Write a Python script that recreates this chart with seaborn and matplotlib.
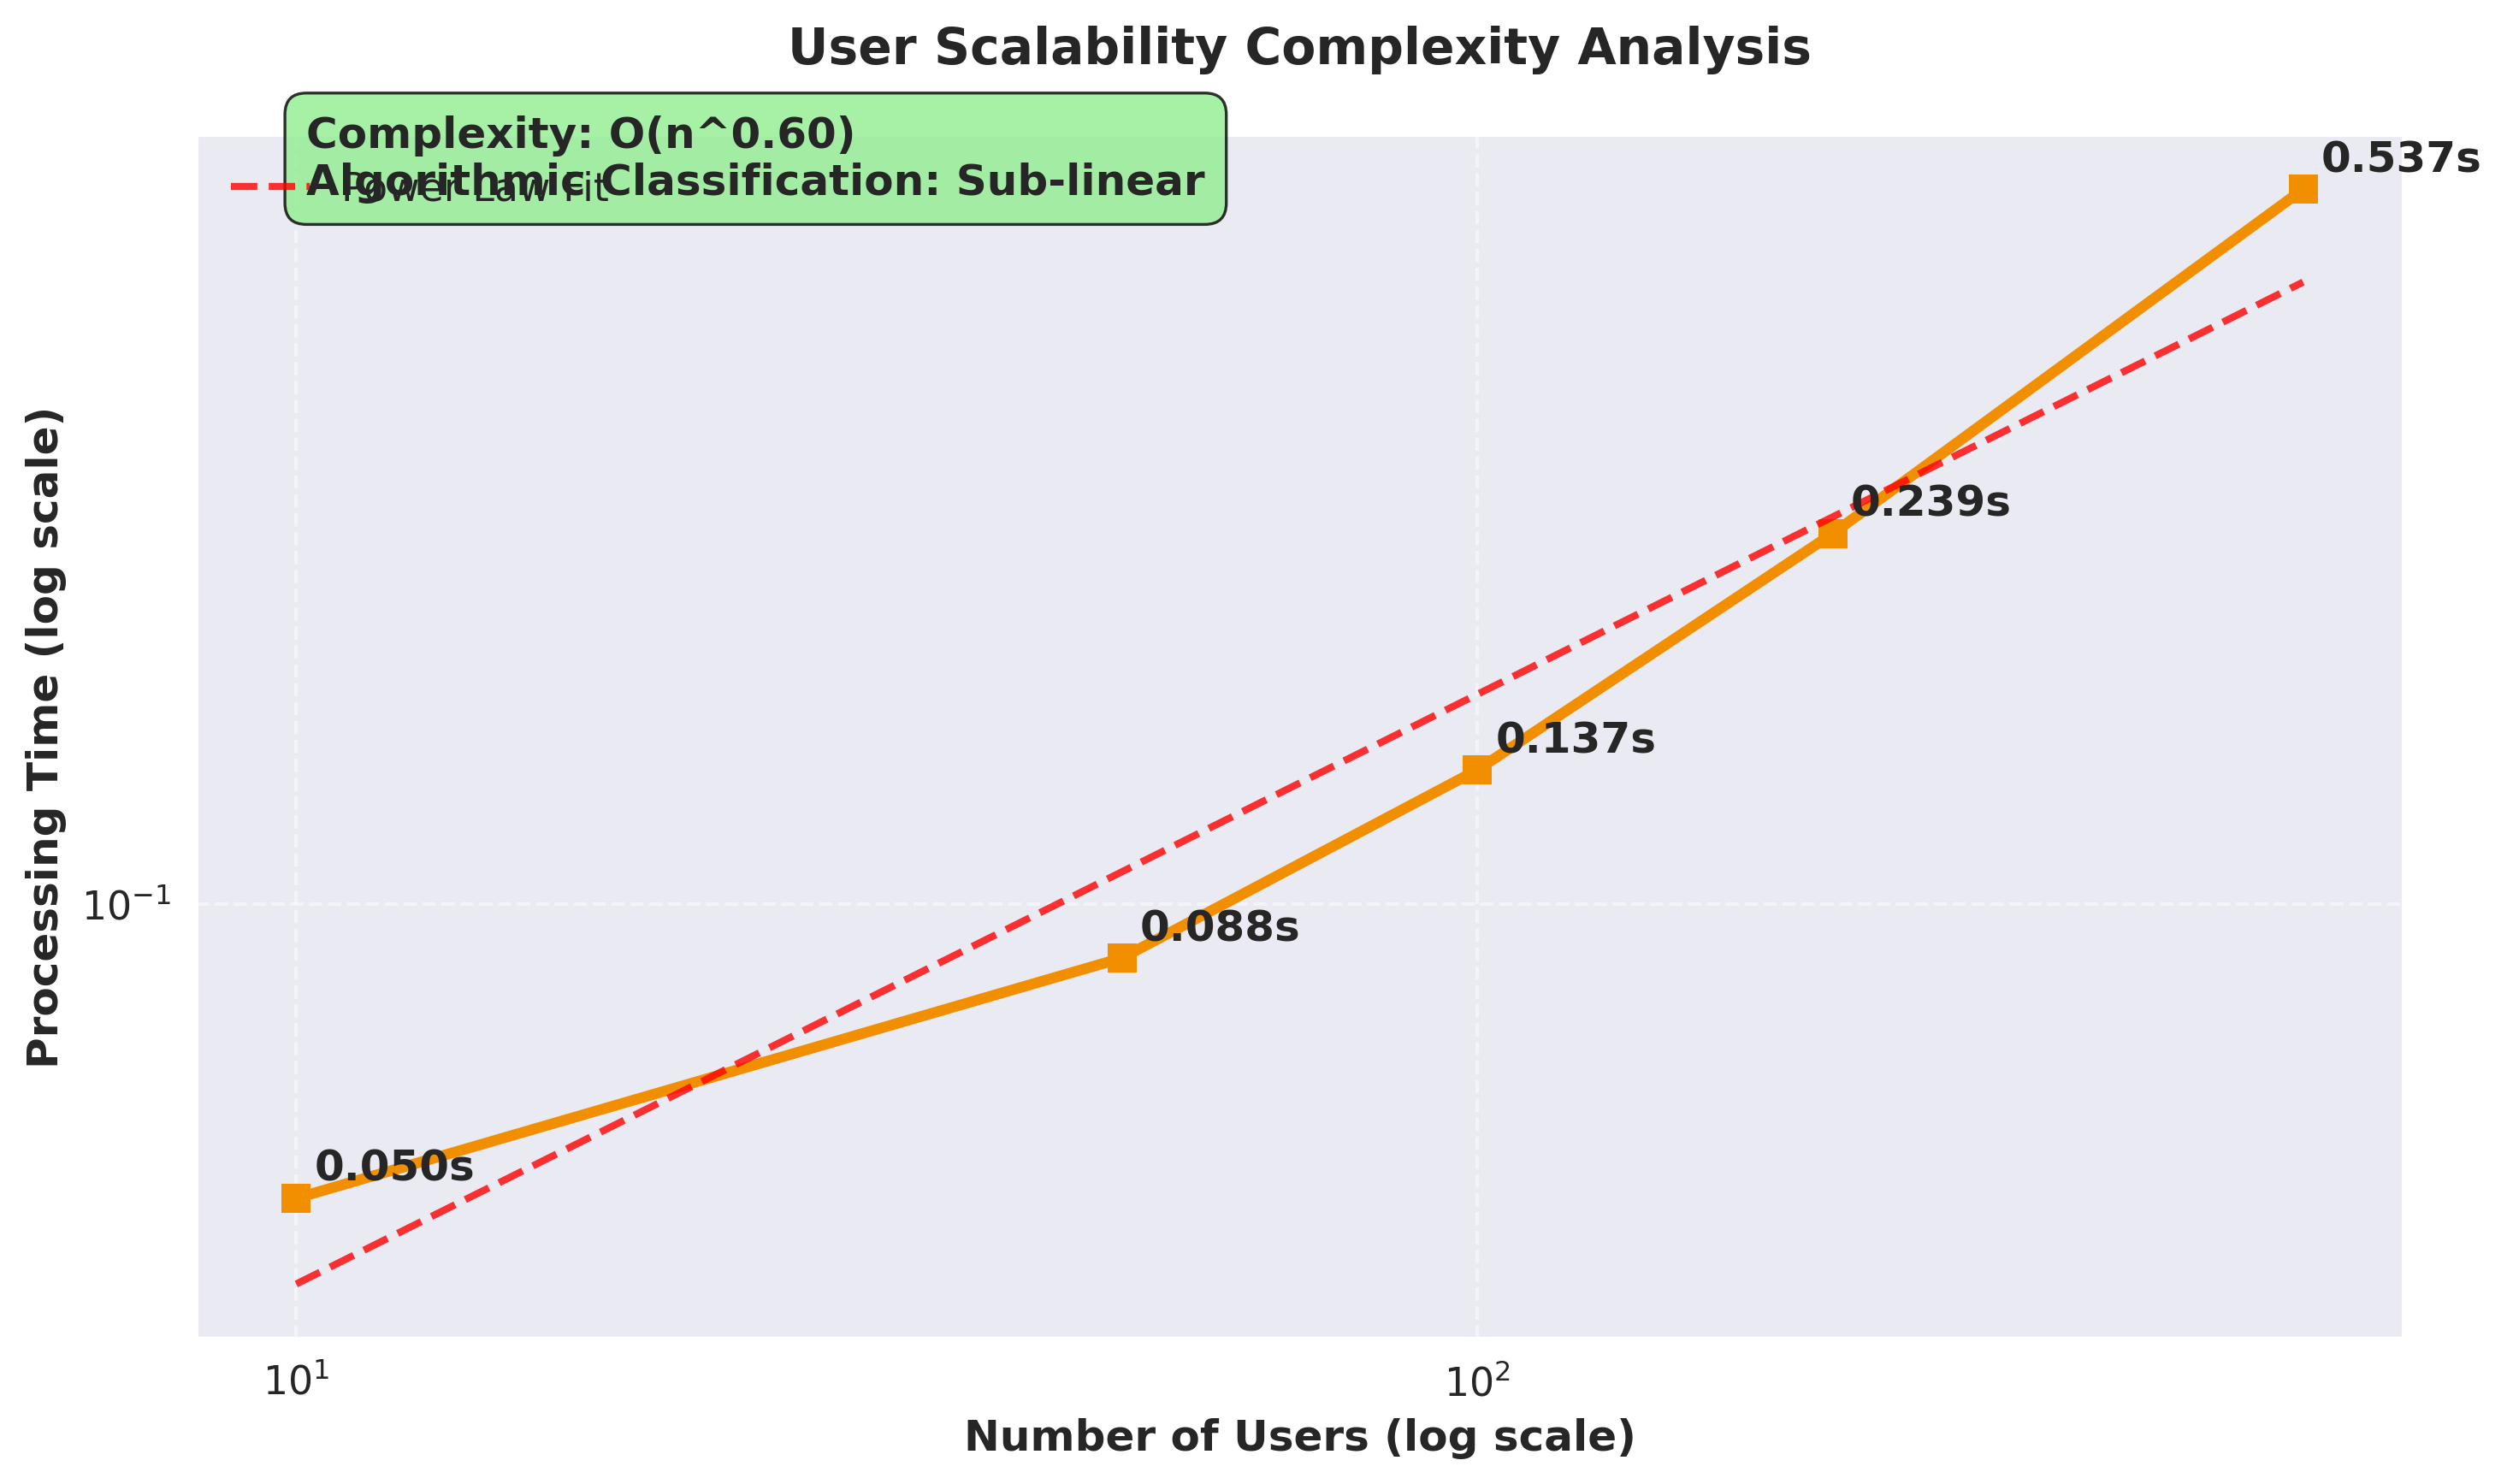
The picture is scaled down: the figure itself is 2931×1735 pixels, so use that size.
import numpy as np
import pandas as pd
import matplotlib
matplotlib.use("Agg")
import matplotlib.pyplot as plt
import seaborn as sns

# Data
users = [10, 50, 100, 200, 500]
times = [0.050, 0.088, 0.137, 0.239, 0.537]
title = "User Scalability Complexity Analysis"
xlabel = "Number of Users (log scale)"
ylabel = "Processing Time (log scale)"
fit_label = "Power Law Fit"

sns.set_theme(style="darkgrid")
plt.rcParams['font.family'] = ['DejaVu Sans']
plt.rcParams['xtick.major.size'] = 0
plt.rcParams['ytick.major.size'] = 0
plt.rcParams['xtick.minor.size'] = 0
plt.rcParams['ytick.minor.size'] = 0

df = pd.DataFrame({"users": users, "time": times})

# Power-law fit in log-log space
slope, intercept = np.polyfit(np.log10(users), np.log10(times), 1)
fit_df = pd.DataFrame({"users": users,
                       "time": 10 ** (intercept + slope * np.log10(users))})

fig, ax = plt.subplots(figsize=(10, 6))

sns.lineplot(data=df, x="users", y="time", ax=ax, color="#F18F01",
             marker="s", markersize=8, markeredgewidth=0, linewidth=3)
sns.lineplot(data=fit_df, x="users", y="time", ax=ax, color="red",
             linestyle="--", linewidth=2, alpha=0.8, label=fit_label)

ax.set_xscale("log")
ax.set_yscale("log")
ax.tick_params(which="both", length=0, pad=7)

for u, t in zip(users, times):
    ax.annotate(f"{t:.3f}s", (u, t), xytext=(5, 5), textcoords="offset points",
                fontsize=12, fontweight="bold", color="#262626")

ax.set_title(title, fontsize=14, fontweight="bold", pad=20)
ax.set_xlabel(xlabel, fontsize=12, fontweight="bold")
ax.set_ylabel(ylabel, fontsize=12, fontweight="bold")
ax.grid(True, linestyle="--", alpha=0.5)

ax.legend(loc="upper left", frameon=False, fontsize=11)

complexity_class = "Sub-linear" if slope < 1 else ("Linear" if slope < 1.1 else "Super-linear")
ax.text(0.05, 0.98,
        f"Complexity: O(n^{slope:.2f})\nAlgorithmic Classification: {complexity_class}",
        transform=ax.transAxes, fontsize=12, fontweight="bold", va="center",
        color="#262626",
        bbox=dict(boxstyle="round,pad=0.5", facecolor="lightgreen",
                  edgecolor="black", linewidth=0.8, alpha=0.8))

plt.tight_layout()
plt.savefig("out.png", dpi=300, bbox_inches="tight")
